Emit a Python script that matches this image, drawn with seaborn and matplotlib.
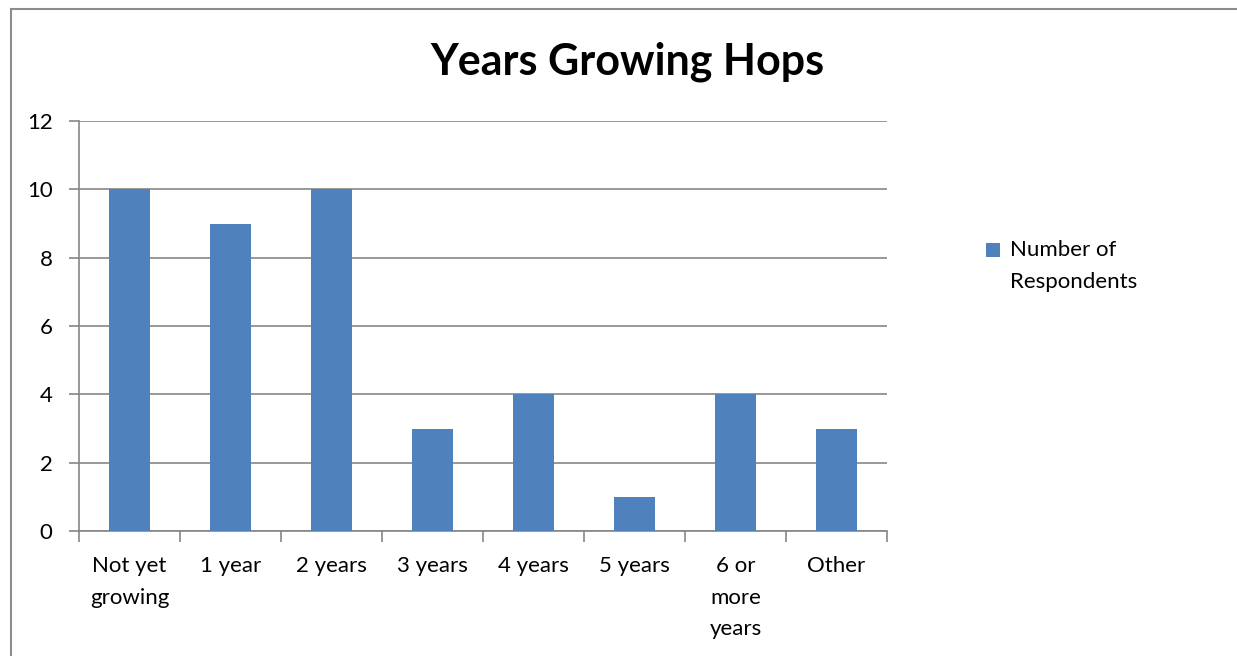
import matplotlib.pyplot as plt
import seaborn as sns
import pandas as pd
from matplotlib.lines import Line2D
from matplotlib.patches import Patch, Rectangle
from matplotlib.legend_handler import HandlerPatch

# Data
categories = ["Not yet\ngrowing", "1 year", "2 years", "3 years", "4 years",
              "5 years", "6 or\nmore\nyears", "Other"]
respondents = [10, 9, 10, 3, 4, 1, 4, 3]
series_name = "Number of\nRespondents"

BAR_COLOR = "#4F81BD"
AXIS_GRAY = "#868686"

sns.set_theme(style="white")
plt.rcParams["font.family"] = ["Lato", "DejaVu Sans"]

df = pd.DataFrame({"category": categories, "count": respondents})

fig = plt.figure(figsize=(12.37, 6.56), dpi=100)
ax = fig.add_axes([79 / 1237, 1 - 531 / 656, (887 - 79) / 1237, (531 - 121) / 656])

sns.barplot(data=df, x="category", y="count", color=BAR_COLOR, width=0.4,
            saturation=1, linewidth=0, ax=ax, zorder=3)

ax.set_ylim(0, 12)
ax.set_xlim(-0.5, len(categories) - 0.5)
ax.set_yticks(range(0, 13, 2))
ax.yaxis.grid(True, color=AXIS_GRAY, linewidth=1.2, zorder=0)
ax.set_xlabel("")
ax.set_ylabel("")

for side in ["top", "right"]:
    ax.spines[side].set_visible(False)
for side in ["left", "bottom"]:
    ax.spines[side].set_color(AXIS_GRAY)
    ax.spines[side].set_linewidth(1.2)

ax.tick_params(axis="y", which="major", left=True, length=7, width=1.2,
               color=AXIS_GRAY, labelsize=16, pad=12, labelcolor="black")
ax.set_xticks(range(len(categories)))
ax.set_xticklabels(categories, linespacing=1.72)
ax.tick_params(axis="x", which="major", bottom=False, labelsize=16, pad=12,
               labelcolor="black")
ax.set_xticks([i - 0.5 for i in range(len(categories) + 1)], minor=True)
ax.tick_params(axis="x", which="minor", bottom=True, length=8, width=1.2,
               color=AXIS_GRAY)

fig.suptitle("Years Growing Hops", x=627 / 1237, y=1 - 62 / 656, va="center",
             fontsize=31, fontweight="bold", color="black")


# put the legend square next to the first line of the label, like Excel does
def upper_square(legend, orig_handle, xdescent, ydescent, width, height, fontsize):
    return Rectangle((-xdescent, -ydescent + 0.72 * fontsize), width, height)


handle = Patch(facecolor=BAR_COLOR, edgecolor="none")
leg = fig.legend([handle], [series_name], loc="upper left",
                 bbox_to_anchor=(966 / 1237, 1 - 220 / 656), frameon=False,
                 fontsize=16, handlelength=0.65, handleheight=0.65,
                 handletextpad=0.45,
                 handler_map={Patch: HandlerPatch(patch_func=upper_square)})
for t in leg.get_texts():
    t.set_linespacing(1.72)
    t.set_color("black")

# chart frame (left and top edges visible in the reference)
fig.add_artist(Line2D([11 / 1237, 11 / 1237], [0, 1 - 9 / 656],
                      color="#8c8c8c", linewidth=1.5, transform=fig.transFigure))
fig.add_artist(Line2D([11 / 1237, 1], [1 - 9 / 656, 1 - 9 / 656],
                      color="#8c8c8c", linewidth=1.5, transform=fig.transFigure))

fig.savefig("out.png", dpi=100)
